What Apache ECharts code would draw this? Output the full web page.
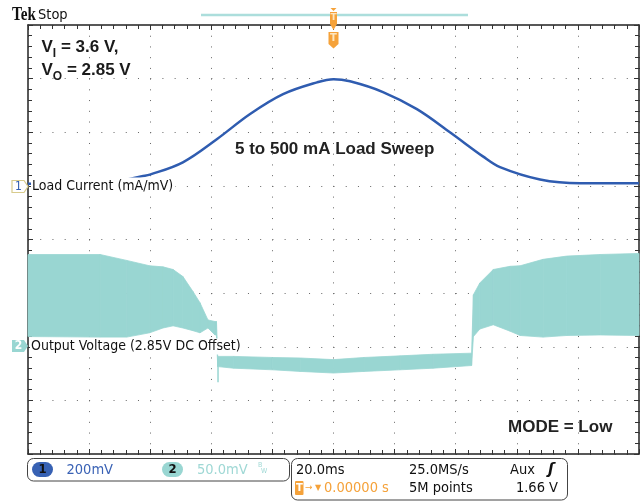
<!DOCTYPE html>
<html>
<head>
<meta charset="utf-8">
<title>Load sweep - MODE Low</title>
<script src="https://cdn.jsdelivr.net/npm/echarts@6/dist/echarts.min.js"></script>
<style>
  html, body { margin: 0; padding: 0; background: #fff; }
  #main { width: 640px; height: 502px; }
</style>
</head>
<body>
<div id="main"></div>
<script>
// time in ms (20 ms/div, trigger at 0), amplitude in screen divisions
const ch1Time = [-100, -80, -70, -62.7, -60.1, -49.3, -38.2, -27.3, -16.5, -5.4, 0, 5.4, 16.2, 27.3, 38.1, 48.9, 54.5, 67.6, 80.7, 100];
const ch1Div = [1.04, 1.04, 1.09, 1.18, 1.21, 1.44, 1.87, 2.34, 2.71, 2.93, 2.99, 2.95, 2.75, 2.43, 2.0, 1.55, 1.35, 1.12, 1.05, 1.05];

// output voltage ripple band (top / bottom edge of the envelope)
const ch2Time = [-100, -76.4, -67.7, -60.2, -55.8, -52.5, -49.3, -46.0, -43.7, -41.1, -38.8, -38.3, -37.9, -32.7, -20, -10.9, 0, 10, 21.8, 32.6, 45.2, 45.8, 47.9, 52.3, 57.8, 61.1, 68.6, 76.3, 87.3, 100];
const ch2Top = [-0.28, -0.28, -0.39, -0.49, -0.51, -0.56, -0.69, -0.97, -1.18, -1.50, -1.53, -1.53, -2.18, -2.18, -2.20, -2.21, -2.24, -2.20, -2.17, -2.14, -2.12, -1.03, -0.81, -0.56, -0.50, -0.49, -0.37, -0.31, -0.28, -0.26];
const ch2Bottom = [-1.81, -1.82, -1.82, -1.74, -1.65, -1.61, -1.65, -1.70, -1.74, -1.65, -1.78, -1.78, -2.37, -2.40, -2.43, -2.46, -2.49, -2.46, -2.43, -2.40, -2.35, -1.81, -1.67, -1.59, -1.71, -1.79, -1.82, -1.79, -1.78, -1.79];

// the short dropout spike when the mode switches
const spikeTime = [-37.8, -37.8];
const spikeDiv = [-2.2, -2.66];

const COND = "'DejaVu Sans Condensed', 'DejaVu Sans', sans-serif";
const BLUE = '#2f5cb0';
const CYAN = '#99d6d2';
const ORANGE = '#f5a23a';

const chart = echarts.init(document.getElementById('main'), null, { renderer: 'canvas' });

const ch1Data = ch1Time.map((t, i) => [t, ch1Div[i]]);
const ch2Data = ch2Time.map((t, i) => [t, ch2Top[i], ch2Bottom[i]]);
const spikeData = spikeTime.map((t, i) => [t, spikeDiv[i]]);

// envelope drawn as quads between consecutive samples
function renderBand(params, api) {
  const i = params.dataIndex;
  if (i === 0) return null;
  const p0 = api.coord([ch2Time[i - 1], ch2Top[i - 1]]);
  const p1 = api.coord([api.value(0), api.value(1)]);
  const p2 = api.coord([api.value(0), api.value(2)]);
  const p3 = api.coord([ch2Time[i - 1], ch2Bottom[i - 1]]);
  return {
    type: 'polygon',
    shape: { points: [p0, p1, p2, p3] },
    style: { fill: CYAN, stroke: CYAN, lineWidth: 0.8 }
  };
}

function xAxisCfg(pos, grid) {
  return {
    type: 'value', position: pos, min: -100, max: 100, interval: 20,
    axisLine: { show: true, onZero: false, lineStyle: { color: '#222', width: 1.5 } },
    axisTick: { show: true, inside: true, length: 5, lineStyle: { color: '#333' } },
    minorTick: { show: true, splitNumber: 5, length: 4, lineStyle: { color: '#333' } },
    axisLabel: { show: false },
    splitLine: { show: grid, lineStyle: { color: '#666', width: 1, type: [1, 9.725] } }
  };
}
function yAxisCfg(pos, grid) {
  return {
    type: 'value', position: pos, min: -4, max: 4, interval: 1,
    axisLine: { show: true, onZero: false, lineStyle: { color: '#222', width: 1.5 } },
    axisTick: { show: true, inside: true, length: 5, lineStyle: { color: '#333' } },
    minorTick: { show: true, splitNumber: 5, length: 4, lineStyle: { color: '#333' } },
    axisLabel: { show: false },
    splitLine: { show: grid, lineStyle: { color: '#666', width: 1, type: [1, 11.22] } }
  };
}

function txt(x, y, text, font, fill, extra) {
  return Object.assign({
    type: 'text', x: x, y: y, z: 100,
    style: { text: text, font: font, fill: fill, textVerticalAlign: 'middle' }
  }, extra || {});
}
function ctxt(x, y, text, font, fill) {
  return {
    type: 'text', x: x, y: y, z: 101,
    style: { text: text, font: font, fill: fill, textAlign: 'center', textVerticalAlign: 'middle' }
  };
}

const option = {
  backgroundColor: '#fff',
  animation: false,
  grid: { left: 28, top: 25, width: 611, height: 429, outerBoundsMode: 'none' },
  xAxis: [xAxisCfg('bottom', true), xAxisCfg('top', false)],
  yAxis: [yAxisCfg('left', true), yAxisCfg('right', false)],
  series: [
    {
      name: 'Output Voltage', type: 'custom', data: ch2Data,
      encode: { x: 0, y: [1, 2] }, renderItem: renderBand, silent: true
    },
    {
      name: 'spike', type: 'line', data: spikeData, showSymbol: false,
      lineStyle: { width: 1.5, color: CYAN }
    },
    {
      name: 'Load Current', type: 'line', data: ch1Data, smooth: 0.35, showSymbol: false,
      lineStyle: { width: 2.5, color: BLUE }, z: 5
    }
  ],
  graphic: [
    // header
    txt(12, 15, 'Tek', "bold 19px 'Liberation Serif'", '#111', { scaleX: 0.8 }),
    txt(38, 15, 'Stop', '14.5px ' + COND, '#111'),
    { type: 'line', z: 90, shape: { x1: 201, y1: 15, x2: 468, y2: 15 }, style: { stroke: '#acdedc', lineWidth: 2.5 } },
    // trigger position markers
    { type: 'polygon', z: 100, shape: { points: [[330.5, 8], [336.5, 8], [333.5, 11]] }, style: { fill: ORANGE } },
    { type: 'polygon', z: 100, shape: { points: [[330, 12], [337, 12], [337, 24], [333.5, 30], [330, 24]] }, style: { fill: ORANGE } },
    ctxt(333.5, 18, 'T', "bold 9px 'DejaVu Sans'", '#fde6c0'),
    { type: 'polygon', z: 100, shape: { points: [[328.5, 32], [338.5, 32], [338.5, 44], [333.5, 48.5], [328.5, 44]] }, style: { fill: ORANGE } },
    ctxt(333.5, 38.5, 'T', "bold 10px 'DejaVu Sans'", '#fde6c0'),
    // annotations
    {
      type: 'text', x: 41.5, y: 34, z: 100,
      style: {
        text: 'V{s|I} = 3.6 V,', fill: '#1a1a1a',
        font: "bold 17px 'Liberation Sans'",
        rich: {
          s: { fontSize: 12, fontWeight: 'bold', fontFamily: 'Liberation Sans', lineHeight: 12, verticalAlign: 'bottom', fill: '#1a1a1a' }
        },
        lineHeight: 26
      }
    },
    {
      type: 'text', x: 41.5, y: 57, z: 100,
      style: {
        text: 'V{s|O} = 2.85 V', fill: '#1a1a1a',
        font: "bold 17px 'Liberation Sans'",
        rich: {
          s: { fontSize: 12, fontWeight: 'bold', fontFamily: 'Liberation Sans', lineHeight: 14, verticalAlign: 'bottom', fill: '#1a1a1a' }
        },
        lineHeight: 26
      }
    },
    txt(235, 149.5, '5 to 500 mA Load Sweep', "bold 17px 'Liberation Sans'", '#222'),
    txt(508, 427, 'MODE = Low', "bold 17px 'Liberation Sans'", '#222'),
    // channel markers and labels
    { type: 'polygon', z: 100, shape: { points: [[12, 180.5], [24, 180.5], [28, 186.5], [24, 192.5], [12, 192.5]] }, style: { fill: '#fff', stroke: '#d8cb8c', lineWidth: 1.2 } },
    ctxt(18.5, 186.8, '1', '12px ' + COND, BLUE),
    txt(31, 186.5, 'Load Current (mA/mV)', '14px ' + COND, '#111', {
      style: { text: 'Load Current (mA/mV)', font: '14px ' + COND, fill: '#111', textVerticalAlign: 'middle', backgroundColor: '#fff', padding: [2, 2, 2, 1] }
    }),
    { type: 'polygon', z: 100, shape: { points: [[12, 340], [24, 340], [28, 346], [24, 352], [12, 352]] }, style: { fill: CYAN } },
    ctxt(18.5, 346.3, '2', 'bold 12px ' + COND, '#fff'),
    txt(30, 346.5, 'Output Voltage (2.85V DC Offset)', '14px ' + COND, '#111', {
      style: { text: 'Output Voltage (2.85V DC Offset)', font: '14px ' + COND, fill: '#111', textVerticalAlign: 'middle', backgroundColor: '#fff', padding: [1, 2, 1, 1] }
    }),
    // status bar - vertical settings
    { type: 'rect', z: 100, shape: { x: 27.5, y: 458.5, width: 262, height: 22.5, r: 6 }, style: { fill: '#fff', stroke: '#444', lineWidth: 1 } },
    { type: 'rect', z: 100, shape: { x: 32, y: 462, width: 21, height: 15, r: 7.5 }, style: { fill: '#3761b3' } },
    ctxt(42.5, 469.8, '1', 'bold 13px ' + COND, '#111'),
    txt(66.5, 469.8, '200mV', '14.5px ' + COND, '#3a62b5'),
    { type: 'rect', z: 100, shape: { x: 162, y: 462, width: 21, height: 15, r: 7.5 }, style: { fill: CYAN } },
    ctxt(172.5, 469.8, '2', 'bold 13px ' + COND, '#111'),
    txt(197, 469.8, '50.0mV', '14.5px ' + COND, '#9fd8d5'),
    txt(258, 465, 'B', '7px ' + COND, '#9fd8d5'),
    txt(261, 471.5, 'W', '7px ' + COND, '#9fd8d5'),
    // status bar - timebase / trigger
    { type: 'rect', z: 100, shape: { x: 291.5, y: 458.5, width: 276, height: 41.5, r: 6 }, style: { fill: '#fff', stroke: '#444', lineWidth: 1 } },
    txt(296, 470, '20.0ms', '14.5px ' + COND, '#111'),
    txt(409, 470, '25.0MS/s', '14.5px ' + COND, '#111'),
    txt(510, 470, 'Aux', '14.5px ' + COND, '#111'),
    txt(548, 470, 'ʃ', "bold italic 15px 'DejaVu Sans'", '#111'),
    { type: 'rect', z: 100, shape: { x: 295, y: 481, width: 8.5, height: 14, r: 1 }, style: { fill: ORANGE } },
    ctxt(299.3, 488.3, 'T', "bold 10px 'DejaVu Sans'", '#fff'),
    txt(305, 488, '→', "9px 'DejaVu Sans'", ORANGE),
    txt(315, 488, '▼', "8px 'DejaVu Sans'", ORANGE),
    txt(324, 488, '0.00000 s', '14.5px ' + COND, ORANGE),
    txt(409, 488, '5M points', '14.5px ' + COND, '#111'),
    {
      type: 'text', x: 558, y: 488, z: 100,
      style: { text: '1.66 V', font: '14.5px ' + COND, fill: '#111', textAlign: 'right', textVerticalAlign: 'middle' }
    }
  ]
};

chart.setOption(option);
</script>
</body>
</html>
